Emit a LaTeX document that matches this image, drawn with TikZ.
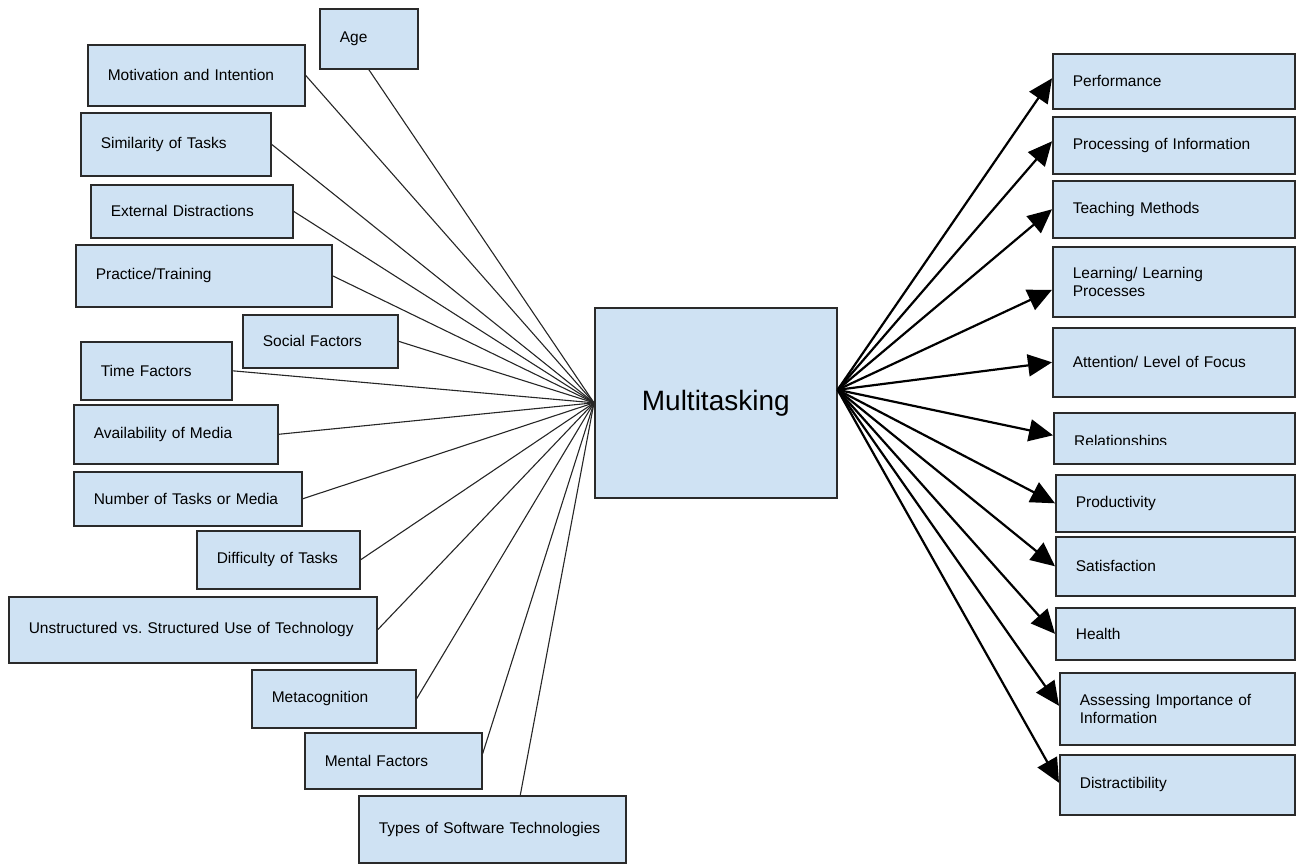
\documentclass[tikz,border=0pt]{standalone}
\usepackage{fontspec}
\setmainfont{Liberation Sans}
\usetikzlibrary{arrows.meta}
\frenchspacing
\definecolor{boxfill}{HTML}{CFE2F3}
\definecolor{boxline}{HTML}{2A2A2A}
\tikzset{
  box/.style={draw=boxline, fill=boxfill, line width=1.6pt, anchor=north west,
    inner xsep=20pt, inner ysep=2pt, align=left,
    font=\fontsize{15.5}{18}\selectfont},
  lline/.style={line width=1.1pt, draw=black!85},
  arr/.style={line width=2.2pt, draw=black, -{Triangle[length=24pt,width=22pt]}},
}
\begin{document}
\begin{tikzpicture}[x=1pt,y=-1pt]
\useasboundingbox (0,0) rectangle (1296,863);

% centre
\node[draw=boxline, fill=boxfill, line width=1.6pt, anchor=north west,
  minimum width=242pt, minimum height=190pt,
  font=\fontsize{28}{32}\selectfont] (multi) at (594,307) {Multitasking};

% left boxes
\node[box, minimum height=60pt, text width=58pt] (age) at (319,8) {Age};
\node[box, minimum height=61pt, text width=177pt] (motiv) at (87,44) {Motivation and Intention};
\node[box, minimum height=63pt, text width=150pt] (simil) at (80,112) {Similarity of Tasks};
\node[box, minimum height=53pt, text width=162pt] (extern) at (90,184) {External Distractions};
\node[box, minimum height=62pt, text width=216pt] (pract) at (75,244) {Practice/Training};
\node[box, minimum height=53pt, text width=115pt] (social) at (242,314) {Social Factors};
\node[box, minimum height=58pt, text width=111pt] (time) at (80,341) {Time Factors};
\node[box, minimum height=59pt, text width=164pt] (avail) at (73,404) {Availability of Media};
\node[box, minimum height=54pt, text width=188pt] (number) at (73,471) {Number of Tasks or Media};
\node[box, minimum height=58pt, text width=123pt] (diffic) at (196,530) {Difficulty of Tasks};
\node[box, minimum height=66pt, text width=328pt] (unstr) at (8,596) {Unstructured vs. Structured Use of Technology};
\node[box, minimum height=58pt, text width=124pt] (meta) at (251,669) {Metacognition};
\node[box, minimum height=56pt, text width=137pt] (mental) at (304,732) {Mental Factors};
\node[box, minimum height=67pt, text width=227pt] (types) at (358,795) {Types of Software Technologies};

% right boxes
\node[box, minimum height=55pt, text width=202pt] (perf) at (1052,53) {Performance};
\node[box, minimum height=57pt, text width=202pt] (proc) at (1052,116) {Processing of Information};
\node[box, minimum height=57pt, text width=202pt] (teach) at (1052,180) {Teaching Methods};
\node[box, minimum height=70pt, text width=202pt] (learn) at (1052,246) {Learning/ Learning\\Processes};
\node[box, minimum height=69pt, text width=202pt] (attn) at (1052,327) {Attention/ Level of Focus};
\node[box, minimum height=51pt, text width=201pt] (relat) at (1053,412) {};
\begin{scope}
  \clip (1054,413) rectangle (1292,444);
  \node[anchor=base west, inner sep=0pt, font=\fontsize{15.5}{18}\selectfont] (relattext) at (1074,446) {Relationships};
\end{scope}
\node[box, minimum height=57pt, text width=199pt] (prod) at (1055,474) {Productivity};
\node[box, minimum height=59pt, text width=199pt] (satis) at (1055,536) {Satisfaction};
\node[box, minimum height=52pt, text width=199pt] (health) at (1055,607) {Health};
\node[box, minimum height=72pt, text width=195pt] (assess) at (1059,672) {Assessing Importance of\\Information};
\node[box, minimum height=60pt, text width=195pt] (distr) at (1059,754) {Distractibility};

% left connectors
\draw[lline] (age.south) -- (multi.west);
\draw[lline] (motiv.east) -- (multi.west);
\draw[lline] (simil.east) -- (multi.west);
\draw[lline] (extern.east) -- (multi.west);
\draw[lline] (pract.east) -- (multi.west);
\draw[lline] (social.east) -- (multi.west);
\draw[lline] (time.east) -- (multi.west);
\draw[lline] (avail.east) -- (multi.west);
\draw[lline] (number.east) -- (multi.west);
\draw[lline] (diffic.east) -- (multi.west);
\draw[lline] (unstr.east) -- (multi.west);
\draw[lline] (meta.east) -- (multi.west);
\draw[lline] ([yshift=7pt]mental.east) -- (multi.west);
\draw[lline] ([xshift=28pt]types.north) -- (multi.west);

% right arrows
\coordinate (src) at ([yshift=13pt]multi.east);
\draw[arr] (src) -- ([yshift=3pt]perf.west);
\draw[arr] (src) -- ([yshift=4pt]proc.west);
\draw[arr] (src) -- (teach.west);
\draw[arr] (src) -- ([yshift=-8pt]learn.west);
\draw[arr] (src) -- (attn.west);
\draw[arr] (src) -- ([yshift=3pt]relat.west);
\draw[arr] (src) -- (prod.west);
\draw[arr] (src) -- (satis.west);
\draw[arr] (src) -- (health.west);
\draw[arr] (src) -- ([yshift=3pt]assess.west);
\draw[arr] (src) -- ([yshift=2pt]distr.west);
\end{tikzpicture}
\end{document}
